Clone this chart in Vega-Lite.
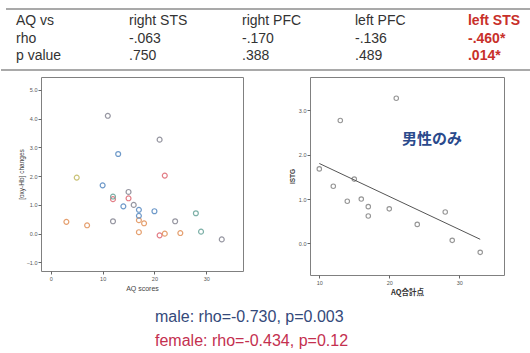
{
  "$schema": "https://vega.github.io/schema/vega-lite/v6.json",
  "background": "white",
  "padding": {"left": 0, "top": 3, "right": 0, "bottom": 0},
  "config": {"view": {"stroke": null}, "font": "Liberation Sans"},
  "datasets": {
    "subj": [
      {"aq": 11, "change": 4.1, "sex": "female", "grp": "g1"},
      {"aq": 5, "change": 1.95, "sex": "female", "grp": "g6"},
      {"aq": 22, "change": 2.02, "sex": "female", "grp": "g5"},
      {"aq": 12, "change": 1.2, "sex": "female", "grp": "g5"},
      {"aq": 15, "change": 1.23, "sex": "female", "grp": "g5"},
      {"aq": 17, "change": 0.47, "sex": "female", "grp": "g4"},
      {"aq": 18, "change": 0.36, "sex": "female", "grp": "g4"},
      {"aq": 12, "change": 0.43, "sex": "female", "grp": "g1"},
      {"aq": 3, "change": 0.41, "sex": "female", "grp": "g4"},
      {"aq": 7, "change": 0.29, "sex": "female", "grp": "g4"},
      {"aq": 17, "change": 0.05, "sex": "female", "grp": "g4"},
      {"aq": 21, "change": -0.06, "sex": "female", "grp": "g5"},
      {"aq": 22, "change": 0.0, "sex": "female", "grp": "g4"},
      {"aq": 25, "change": 0.02, "sex": "female", "grp": "g4"},
      {"aq": 21, "change": 3.27, "sex": "male", "grp": "g1"},
      {"aq": 13, "change": 2.77, "sex": "male", "grp": "g2"},
      {"aq": 10, "change": 1.68, "sex": "male", "grp": "g2"},
      {"aq": 12, "change": 1.29, "sex": "male", "grp": "g3"},
      {"aq": 15, "change": 1.45, "sex": "male", "grp": "g1"},
      {"aq": 14, "change": 0.95, "sex": "male", "grp": "g2"},
      {"aq": 16, "change": 1.0, "sex": "male", "grp": "g1"},
      {"aq": 17, "change": 0.83, "sex": "male", "grp": "g2"},
      {"aq": 17, "change": 0.62, "sex": "male", "grp": "g2"},
      {"aq": 20, "change": 0.78, "sex": "male", "grp": "g2"},
      {"aq": 24, "change": 0.43, "sex": "male", "grp": "g1"},
      {"aq": 28, "change": 0.71, "sex": "male", "grp": "g3"},
      {"aq": 29, "change": 0.07, "sex": "male", "grp": "g3"},
      {"aq": 33, "change": -0.2, "sex": "male", "grp": "g1"}
    ],
    "table": [
      {"col": 0, "row": 0, "label": "AQ vs", "sig": "no"},
      {"col": 1, "row": 0, "label": "right STS", "sig": "no"},
      {"col": 2, "row": 0, "label": "right PFC", "sig": "no"},
      {"col": 3, "row": 0, "label": "left PFC", "sig": "no"},
      {"col": 4, "row": 0, "label": "left STS", "sig": "yes"},
      {"col": 0, "row": 1, "label": "rho", "sig": "no"},
      {"col": 1, "row": 1, "label": "-.063", "sig": "no"},
      {"col": 2, "row": 1, "label": "-.170", "sig": "no"},
      {"col": 3, "row": 1, "label": "-.136", "sig": "no"},
      {"col": 4, "row": 1, "label": "-.460*", "sig": "yes"},
      {"col": 0, "row": 2, "label": "p value", "sig": "no"},
      {"col": 1, "row": 2, "label": ".750", "sig": "no"},
      {"col": 2, "row": 2, "label": ".388", "sig": "no"},
      {"col": 3, "row": 2, "label": ".489", "sig": "no"},
      {"col": 4, "row": 2, "label": ".014*", "sig": "yes"}
    ],
    "caption": [
      {"col": 0, "row": 0, "label": "male: rho=-0.730, p=0.003", "sex": "male"},
      {"col": 0, "row": 1, "label": "female: rho=-0.434, p=0.12", "sex": "female"}
    ]
  },
  "spacing": 5,
  "vconcat": [
    {
      "width": 490,
      "height": 67,
      "layer": [
        {
          "data": {"values": [
            {"x1": -0.0886, "x2": 4.5577, "yy": -0.725},
            {"x1": -0.1328, "x2": 4.5577, "yy": 2.812}
          ]},
          "mark": {"type": "rule", "color": "#8c8c8c", "strokeWidth": 1.4},
          "encoding": {
            "x": {"field": "x1", "type": "quantitative", "scale": {"domain": [0.2212, 4.5577], "nice": false, "zero": false}, "axis": null},
            "x2": {"field": "x2"},
            "y": {"field": "yy", "type": "quantitative", "scale": {"domain": [-1.0725, 2.812], "nice": false, "zero": false, "reverse": true}, "axis": null}
          }
        },
        {
          "data": {"name": "table"},
          "transform": [{"filter": "datum.sig == 'no'"}],
          "mark": {"type": "text", "align": "left", "baseline": "middle", "fontSize": 14, "color": "#333333", "font": "Liberation Sans"},
          "encoding": {
            "x": {"field": "col", "type": "quantitative", "axis": null},
            "y": {"field": "row", "type": "quantitative", "axis": null},
            "text": {"field": "label"}
          }
        },
        {
          "data": {"name": "table"},
          "transform": [{"filter": "datum.sig == 'yes'"}],
          "mark": {"type": "text", "align": "left", "baseline": "middle", "fontSize": 14, "fontWeight": "bold", "color": "#c8302a", "font": "Liberation Sans"},
          "encoding": {
            "x": {"field": "col", "type": "quantitative", "axis": null},
            "y": {"field": "row", "type": "quantitative", "axis": null},
            "text": {"field": "label"}
          }
        }
      ]
    },
    {
      "spacing": 44,
      "hconcat": [
        {
          "width": 202,
          "height": 194,
          "view": {"stroke": "#808080", "strokeWidth": 1},
          "data": {"name": "subj"},
          "mark": {"type": "point", "filled": false, "size": 24, "strokeWidth": 1.2, "opacity": 0.9},
          "encoding": {
            "x": {"field": "aq", "type": "quantitative",
              "scale": {"domain": [-1.9, 37.1], "nice": false, "zero": false},
              "axis": {"values": [0, 10, 20, 30], "format": "d", "title": "AQ scores", "domain": false, "grid": false, "tickSize": 3, "tickColor": "#666", "labelFontSize": 5.5, "labelColor": "#555", "labelPadding": 2, "titleFontSize": 7, "titleFontWeight": "normal", "titleColor": "#444", "titlePadding": 3}},
            "y": {"field": "change", "type": "quantitative",
              "scale": {"domain": [-1.3, 5.45], "nice": false, "zero": false},
              "axis": {"values": [-1, 0, 1, 2, 3, 4, 5], "format": ".1f", "title": "[oxy-Hb] changes", "domain": false, "grid": false, "tickSize": 3, "tickColor": "#666", "labelFontSize": 5.5, "labelColor": "#555", "labelPadding": 1, "titleFontSize": 6.5, "titleFontWeight": "normal", "titleColor": "#444", "titlePadding": 2}},
            "color": {"field": "grp", "type": "nominal",
              "scale": {"domain": ["g1", "g2", "g3", "g4", "g5", "g6"], "range": ["#8b8b97", "#5f8fc4", "#6fa89e", "#e39660", "#e0707a", "#c5bd6a"]},
              "legend": null}
          }
        },
        {
          "width": 194,
          "height": 198,
          "view": {"stroke": "#808080", "strokeWidth": 1},
          "layer": [
            {
              "data": {"name": "subj"},
              "transform": [{"filter": "datum.sex == 'male'"}],
              "mark": {"type": "point", "filled": false, "size": 20, "strokeWidth": 1.1, "color": "#6a6a6a"},
              "encoding": {
                "x": {"field": "aq", "type": "quantitative",
                  "scale": {"domain": [8.67, 36.4], "nice": false, "zero": false},
                  "axis": {"values": [10, 15, 20, 25, 30, 35], "format": "d", "title": "AQ合計点", "titleFont": "Noto Sans CJK JP", "domain": false, "grid": false, "tickSize": 3, "tickColor": "#666", "labelFontSize": 5.5, "labelColor": "#555", "labelPadding": 2, "titleFontSize": 7.5, "titleFontWeight": "bold", "titleColor": "#333", "titlePadding": 3}},
                "y": {"field": "change", "type": "quantitative",
                  "scale": {"domain": [-0.71, 3.75], "nice": false, "zero": false},
                  "axis": {"values": [0, 1, 2, 3], "format": ".1f", "title": "lSTG", "domain": false, "grid": false, "tickSize": 3, "tickColor": "#666", "labelFontSize": 5.5, "labelColor": "#555", "labelPadding": 1, "titleFontSize": 6.5, "titleFontWeight": "bold", "titleColor": "#444", "titlePadding": 3}}
              }
            },
            {
              "data": {"name": "subj"},
              "transform": [
                {"filter": "datum.sex == 'male'"},
                {"regression": "change", "on": "aq", "extent": [10, 33]}
              ],
              "mark": {"type": "line", "color": "#555555", "strokeWidth": 1},
              "encoding": {
                "x": {"field": "aq", "type": "quantitative"},
                "y": {"field": "change", "type": "quantitative"}
              }
            },
            {
              "data": {"values": [{"aq": 26.1, "change": 2.35, "label": "男性のみ"}]},
              "mark": {"type": "text", "fontSize": 15, "fontWeight": "bold", "color": "#2a4a8c", "font": "Noto Sans CJK JP", "align": "center", "baseline": "middle"},
              "encoding": {
                "x": {"field": "aq", "type": "quantitative"},
                "y": {"field": "change", "type": "quantitative"},
                "text": {"field": "label"}
              }
            }
          ]
        }
      ]
    },
    {
      "width": 490,
      "height": 44,
      "layer": [
        {
          "data": {"name": "caption"},
          "transform": [{"filter": "datum.sex == 'male'"}],
          "mark": {"type": "text", "align": "left", "baseline": "middle", "fontSize": 16, "font": "Liberation Sans", "color": "#34497a"},
          "encoding": {
            "x": {"field": "col", "type": "quantitative", "scale": {"domain": [-114, 376], "nice": false, "zero": false}, "axis": null},
            "y": {"field": "row", "type": "quantitative", "scale": {"domain": [-0.625, 1.2083], "nice": false, "zero": false, "reverse": true}, "axis": null},
            "text": {"field": "label"}
          }
        },
        {
          "data": {"name": "caption"},
          "transform": [{"filter": "datum.sex == 'female'"}],
          "mark": {"type": "text", "align": "left", "baseline": "middle", "fontSize": 16, "font": "Liberation Sans", "color": "#c4304f"},
          "encoding": {
            "x": {"field": "col", "type": "quantitative", "axis": null},
            "y": {"field": "row", "type": "quantitative", "axis": null},
            "text": {"field": "label"}
          }
        }
      ]
    }
  ]
}
